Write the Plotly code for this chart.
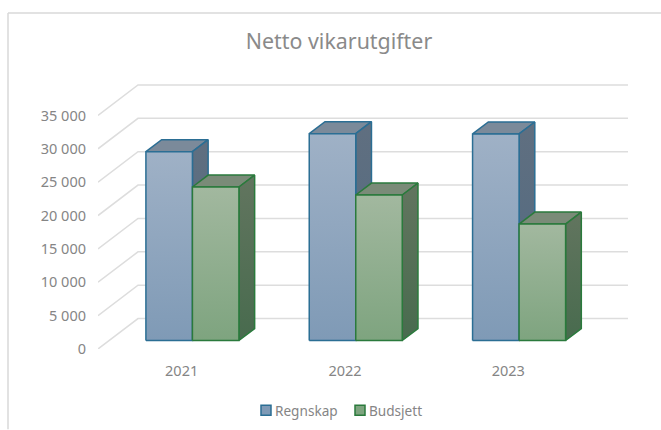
import plotly.graph_objects as go

categories = ["2021", "2022", "2023"]
regnskap = [28300, 31000, 30950]
budsjett = [23000, 21800, 17450]
y_ticks = [0, 5000, 10000, 15000, 20000, 25000, 30000, 35000]
y_labels = ["0", "5 000", "10 000", "15 000", "20 000", "25 000", "30 000", "35 000"]

W, H = 661, 430
PL, PR, PT, PB = 98, 628, 75, 349.5   # plot box in pixels
PX_PER_CAT = 163.3
PX_PER_VAL = 234 / 35000
DEPTH_X = 40 / PX_PER_CAT             # oblique shift of the whole floor depth
DEPTH_Y = 30.5 / PX_PER_VAL
BAR_W = 46.5 / PX_PER_CAT
BAR_LEFT = -0.275
D0, D1 = 0.279, 0.672                 # bar front/back depth fraction
GRID = "#dddddd"
TXT = "#858585"
FONT = "Noto Sans"


def proj(x, v, d):
    return x + d * DEPTH_X, v + d * DEPTH_Y


def poly(pts, **kw):
    xs, ys = zip(*[proj(*p) for p in pts])
    return go.Scatter(x=list(xs) + [xs[0]], y=list(ys) + [ys[0]], mode="lines", fill="toself",
                      hoverinfo="skip", showlegend=False, **kw)


def vgrad(low, high):
    return dict(type="vertical", colorscale=[[0, low], [1, high]])


fig = go.Figure()
x_lo, x_hi = -0.5, 2.5
for v in y_ticks:
    xs, ys = zip(proj(x_lo, v, 0), proj(x_lo, v, 1), proj(x_hi, v, 1))
    fig.add_trace(go.Scatter(x=xs, y=ys, mode="lines", line=dict(color=GRID, width=1.5),
                             hoverinfo="skip", showlegend=False))

series = [
    ("Regnskap", regnskap, "#2b6e94", ["#9fb1c6", "#7f9ab6"], "#7b8a9a", ["#606f80", "#4f6a82"], 0),
    ("Budsjett", budsjett, "#2a7a3c", ["#a2b89f", "#7ea47f"], "#7a8b78", ["#62755f", "#486b4e"], 1),
]
for i in range(len(categories)):
    for name, vals, edge, grad, top, side, k in series:
        x0 = i + BAR_LEFT + k * BAR_W
        x1 = x0 + BAR_W
        v = vals[i]
        ln = dict(color=edge, width=1.5)
        fig.add_trace(poly([(x0, v, D0), (x1, v, D0), (x1, v, D1), (x0, v, D1)],
                           line=ln, fillcolor=top))
        fig.add_trace(poly([(x1, 0, D0), (x1, v, D0), (x1, v, D1), (x1, 0, D1)],
                           line=ln, fillgradient=vgrad(side[1], side[0])))
        fig.add_trace(poly([(x0, 0, D0), (x1, 0, D0), (x1, v, D0), (x0, v, D0)], line=ln,
                           fillgradient=vgrad(grad[1], grad[0])))

for name, vals, edge, grad, top, side, k in series:
    fig.add_trace(go.Scatter(x=[None], y=[None], mode="markers", name=name,
                             marker=dict(symbol="square", size=10, color=grad[1],
                                         line=dict(color=edge, width=1.5))))

px = lambda p: (p - PL) / (PR - PL)
py = lambda p: (PB - p) / (PB - PT)
frame = dict(type="line", xref="paper", yref="paper", line=dict(color="#d9d9d9", width=1.5))
fig.update_layout(
    width=W, height=H, autosize=False,
    margin=dict(l=PL, r=W - PR, t=PT, b=H - PB, autoexpand=False),
    paper_bgcolor="white", plot_bgcolor="white",
    font=dict(family=FONT, color=TXT, size=14.5),
    title=dict(text="Netto vikarutgifter", x=339 / W, xref="container", xanchor="center",
               y=1 - 41.5 / H, yref="container", yanchor="middle",
               font=dict(size=21.4, color="#8a8a8a", family=FONT)),
    xaxis=dict(range=[x_lo, x_hi + DEPTH_X], tickmode="array", tickvals=list(range(3)),
               ticktext=categories, showgrid=False, zeroline=False, showline=False, ticks="",
               ticklabelstandoff=11, ticklabelshift=2, fixedrange=True, automargin=False),
    yaxis=dict(range=[0, (PB - PT) / PX_PER_VAL], tickmode="array", tickvals=y_ticks,
               ticktext=y_labels, showgrid=False, zeroline=False, showline=False, ticks="",
               ticklabelstandoff=11, ticklabelshift=0, fixedrange=True, automargin=False),
    legend=dict(orientation="h", x=px(340), xanchor="center", y=py(411), yanchor="middle",
                font=dict(size=13.6, color=TXT), itemwidth=30, entrywidth=49,
                bgcolor="rgba(0,0,0,0)"),
    shapes=[
        dict(frame, x0=px(8), x1=px(661), y0=py(13), y1=py(13)),
        dict(frame, x0=px(8), x1=px(8), y0=py(13), y1=py(430)),
    ],
)
fig.write_html("out.html", config=dict(displayModeBar=False), post_script="""
document.body.style.margin = '0';
document.body.style.overflow = 'hidden';
document.querySelectorAll('.legendtext').forEach(function (t) {
  t.setAttribute('x', parseFloat(t.getAttribute('x')) - 11);
});
""")
